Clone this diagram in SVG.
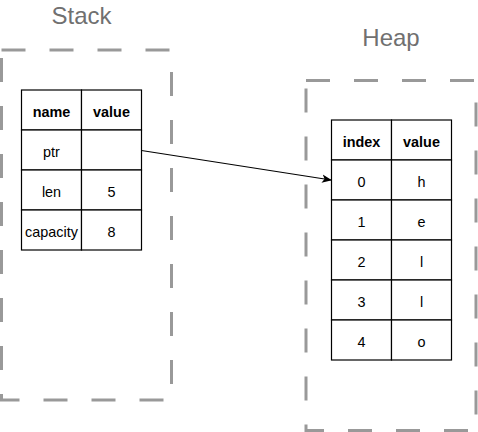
<svg xmlns="http://www.w3.org/2000/svg" width="478" height="432" viewBox="0 0 478 432">
<style>
.box{fill:none;stroke:#999999;stroke-width:3;stroke-dasharray:24 24}
.title{font-family:"Liberation Sans",Arial,sans-serif;font-size:24px;fill:#707070;text-anchor:middle}
.cell{fill:#ffffff;stroke:#000000;stroke-width:1.2}
.t{font-family:"Liberation Sans",Arial,sans-serif;font-size:14.4px;fill:#000000;text-anchor:middle}
.h{font-weight:bold}
.edge{fill:none;stroke:#000000;stroke-width:1.1}
</style>
<defs>
<marker id="arr" viewBox="0 0 10 10" refX="9" refY="5" markerWidth="10" markerHeight="10" markerUnits="userSpaceOnUse" orient="auto">
<path d="M0,0.8 L10,5 L0,9.2 L2.5,5 Z" fill="#000000"/>
</marker>
</defs>
<g id="stack">
<rect class="box" x="1.5" y="50" width="170" height="350"/>
<text class="title" x="81.5" y="24">Stack</text>
</g>
<g id="heap">
<rect class="box" x="306" y="80.5" width="170" height="350"/>
<text class="title" x="391" y="46">Heap</text>
</g>
<g id="stack-table">
<rect class="cell" x="21.5" y="90" width="60" height="40"/>
<rect class="cell" x="81.5" y="90" width="60" height="40"/>
<rect class="cell" x="21.5" y="130" width="60" height="40"/>
<rect class="cell" x="81.5" y="130" width="60" height="40"/>
<rect class="cell" x="21.5" y="170" width="60" height="40"/>
<rect class="cell" x="81.5" y="170" width="60" height="40"/>
<rect class="cell" x="21.5" y="210" width="60" height="40"/>
<rect class="cell" x="81.5" y="210" width="60" height="40"/>
<text class="t h" x="51.5" y="116.7">name</text>
<text class="t h" x="111.5" y="116.7">value</text>
<text class="t" x="51.5" y="156.7">ptr</text>
<text class="t" x="51.5" y="196.7">len</text>
<text class="t" x="111.5" y="196.7">5</text>
<text class="t" x="51.5" y="236.7">capacity</text>
<text class="t" x="111.5" y="236.7">8</text>
</g>
<g id="heap-table">
<rect class="cell" x="331.5" y="120" width="60" height="40"/>
<rect class="cell" x="391.5" y="120" width="60" height="40"/>
<rect class="cell" x="331.5" y="160" width="60" height="40"/>
<rect class="cell" x="391.5" y="160" width="60" height="40"/>
<rect class="cell" x="331.5" y="200" width="60" height="40"/>
<rect class="cell" x="391.5" y="200" width="60" height="40"/>
<rect class="cell" x="331.5" y="240" width="60" height="40"/>
<rect class="cell" x="391.5" y="240" width="60" height="40"/>
<rect class="cell" x="331.5" y="280" width="60" height="40"/>
<rect class="cell" x="391.5" y="280" width="60" height="40"/>
<rect class="cell" x="331.5" y="320" width="60" height="40"/>
<rect class="cell" x="391.5" y="320" width="60" height="40"/>
<text class="t h" x="361.5" y="146.7">index</text>
<text class="t h" x="421.5" y="146.7">value</text>
<text class="t" x="361.5" y="186.7">0</text>
<text class="t" x="421.5" y="186.7">h</text>
<text class="t" x="361.5" y="226.7">1</text>
<text class="t" x="421.5" y="226.7">e</text>
<text class="t" x="361.5" y="266.7">2</text>
<text class="t" x="421.5" y="266.7">l</text>
<text class="t" x="361.5" y="306.7">3</text>
<text class="t" x="421.5" y="306.7">l</text>
<text class="t" x="361.5" y="346.7">4</text>
<text class="t" x="421.5" y="346.7">o</text>
</g>
<g id="connectors">
<path class="edge" d="M141.5,150.5 L331,180" marker-end="url(#arr)"/>
</g>
</svg>
